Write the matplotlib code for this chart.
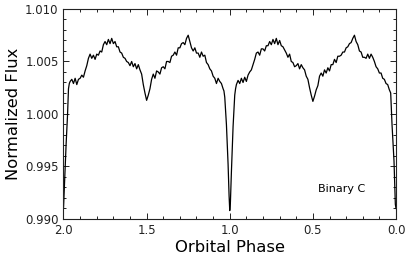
import matplotlib
matplotlib.use("Agg")
import matplotlib.pyplot as plt
from matplotlib.ticker import MultipleLocator, FormatStrFormatter

phase = [
    2.000, 1.995, 1.990, 1.984, 1.976, 1.970, 1.965, 1.96, 1.95, 1.94, 1.93, 1.92, 1.91, 1.90,
    1.89, 1.88, 1.87, 1.86, 1.85, 1.84, 1.83, 1.82, 1.81, 1.80,
    1.79, 1.78, 1.77, 1.76, 1.75, 1.74, 1.73, 1.72, 1.71, 1.70,
    1.69, 1.68, 1.67, 1.66, 1.65, 1.64, 1.63, 1.62, 1.61, 1.60,
    1.59, 1.58, 1.57, 1.56, 1.55, 1.54, 1.53, 1.52, 1.51, 1.50,
    1.49, 1.48, 1.47, 1.46, 1.45, 1.44, 1.43, 1.42, 1.41, 1.40,
    1.39, 1.38, 1.37, 1.36, 1.35, 1.34, 1.33, 1.32, 1.31, 1.30,
    1.29, 1.28, 1.27, 1.26, 1.25, 1.24, 1.23, 1.22, 1.21, 1.20,
    1.19, 1.18, 1.17, 1.16, 1.15, 1.14, 1.13, 1.12, 1.11, 1.10,
    1.09, 1.08, 1.07, 1.06, 1.05, 1.04, 1.035, 1.03, 1.02, 1.01, 1.004, 1.00,
    0.996, 0.99, 0.98, 0.97, 0.965, 0.96, 0.95, 0.94, 0.93, 0.92, 0.91, 0.90,
    0.89, 0.88, 0.87, 0.86, 0.85, 0.84, 0.83, 0.82, 0.81, 0.80,
    0.79, 0.78, 0.77, 0.76, 0.75, 0.74, 0.73, 0.72, 0.71, 0.70,
    0.69, 0.68, 0.67, 0.66, 0.65, 0.64, 0.63, 0.62, 0.61, 0.60,
    0.59, 0.58, 0.57, 0.56, 0.55, 0.54, 0.53, 0.52, 0.51, 0.50,
    0.49, 0.48, 0.47, 0.46, 0.45, 0.44, 0.43, 0.42, 0.41, 0.40,
    0.39, 0.38, 0.37, 0.36, 0.35, 0.34, 0.33, 0.32, 0.31, 0.30,
    0.29, 0.28, 0.27, 0.26, 0.25, 0.24, 0.23, 0.22, 0.21, 0.20,
    0.19, 0.18, 0.17, 0.16, 0.15, 0.14, 0.13, 0.12, 0.11, 0.10,
    0.09, 0.08, 0.07, 0.06, 0.05, 0.04, 0.032, 0.024, 0.012, 0.004, 0.000,
]

flux = [
    0.9910, 0.9930, 0.9952, 0.9972, 0.9998, 1.0024, 1.0029, 1.0031, 1.0033, 1.0029, 1.0034, 1.0028, 1.0033, 1.0034,
    1.0037, 1.0035, 1.0041, 1.0046, 1.0053, 1.0057, 1.0053, 1.0056, 1.0052, 1.0057,
    1.0056, 1.0060, 1.0059, 1.0066, 1.0069, 1.0066, 1.0071, 1.0067, 1.0072, 1.0067,
    1.0069, 1.0064, 1.0064, 1.0059, 1.0058, 1.0054, 1.0053, 1.0050, 1.0049, 1.0046,
    1.0050, 1.0045, 1.0048, 1.0043, 1.0047, 1.0042, 1.0038, 1.0028, 1.0020, 1.0013,
    1.0018, 1.0024, 1.0033, 1.0038, 1.0034, 1.0041, 1.0040, 1.0038, 1.0044, 1.0045,
    1.0043, 1.0050, 1.0050, 1.0049, 1.0055, 1.0056, 1.0059, 1.0056, 1.0063, 1.0063,
    1.0067, 1.0068, 1.0066, 1.0072, 1.0075, 1.0069, 1.0063, 1.0060, 1.0063, 1.0058,
    1.0058, 1.0054, 1.0059, 1.0055, 1.0056, 1.0049, 1.0047, 1.0043, 1.0041, 1.0036,
    1.0034, 1.0029, 1.0034, 1.0031, 1.0029, 1.0024, 1.0022, 1.0016, 0.9990, 0.9952, 0.9922, 0.9908,
    0.9916, 0.9945, 0.9988, 1.0018, 1.0024, 1.0028, 1.0032, 1.0029, 1.0034, 1.0030, 1.0035, 1.0031,
    1.0037, 1.0040, 1.0042, 1.0047, 1.0052, 1.0058, 1.0059, 1.0056, 1.0062, 1.0062,
    1.0060, 1.0065, 1.0065, 1.0069, 1.0066, 1.0071, 1.0067, 1.0072, 1.0066, 1.0070,
    1.0065, 1.0064, 1.0061, 1.0058, 1.0054, 1.0057, 1.0050, 1.0049, 1.0045, 1.0046,
    1.0048, 1.0043, 1.0047, 1.0044, 1.0042, 1.0036, 1.0033, 1.0025, 1.0018, 1.0012,
    1.0017, 1.0023, 1.0027, 1.0036, 1.0039, 1.0036, 1.0042, 1.0039, 1.0044, 1.0041,
    1.0047, 1.0047, 1.0052, 1.0049, 1.0055, 1.0055, 1.0056, 1.0059, 1.0059, 1.0063,
    1.0064, 1.0067, 1.0068, 1.0072, 1.0075, 1.0069, 1.0066, 1.0060, 1.0059, 1.0054,
    1.0054, 1.0053, 1.0057, 1.0053, 1.0057, 1.0054, 1.0050, 1.0045, 1.0043, 1.0039,
    1.0039, 1.0034, 1.0033, 1.0029, 1.0028, 1.0023, 1.0020, 0.9990, 0.9955, 0.9914, 0.9910,
]

x_ticks = [2.0, 1.5, 1.0, 0.5, 0.0]
y_ticks = [0.990, 0.995, 1.000, 1.005, 1.010]
x_label = "Orbital Phase"
y_label = "Normalized Flux"
annotation = "Binary C"

fig = plt.figure(figsize=(4.07, 2.64), dpi=100)
ax = fig.add_axes([0.156, 0.1705, 0.817, 0.7955])
ax.plot(phase, flux, color="black", linewidth=0.9)

ax.set_xlim(2.0, 0.0)
ax.set_ylim(0.990, 1.010)
ax.set_xticks(x_ticks)
ax.set_yticks(y_ticks)
ax.xaxis.set_minor_locator(MultipleLocator(0.1))
ax.yaxis.set_minor_locator(MultipleLocator(0.001))
ax.xaxis.set_major_formatter(FormatStrFormatter("%.1f"))
ax.yaxis.set_major_formatter(FormatStrFormatter("%.3f"))
ax.tick_params(which="both", direction="in", top=True, right=True,
               labelsize=8.5, colors="#222222", width=0.7)
ax.tick_params(which="major", length=4)
ax.tick_params(which="minor", length=2.5)
for s in ax.spines.values():
    s.set_linewidth(0.8)
    s.set_color("#222222")

ax.set_xlabel(x_label, fontsize=11.8, labelpad=2)
ax.set_ylabel(y_label, fontsize=11.8, labelpad=3)
ax.text(0.325, 0.9929, annotation, fontsize=8, ha="center", va="center")

fig.savefig("out.png", dpi=100)
